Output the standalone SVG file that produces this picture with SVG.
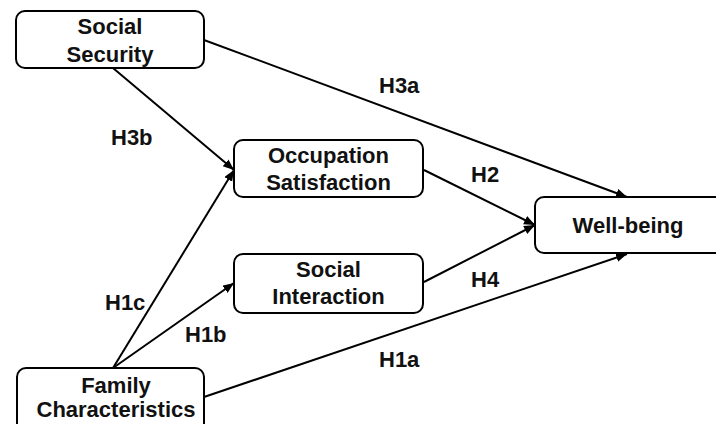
<svg xmlns="http://www.w3.org/2000/svg" width="716" height="424" viewBox="0 0 716 424">
<defs>
<marker id="arr" markerUnits="userSpaceOnUse" markerWidth="12" markerHeight="10" refX="11" refY="4.5" orient="auto">
<path d="M0,0 L11,4.5 L0,9 z" fill="#000"/>
</marker>
<style>
.box{fill:#fff;stroke:#000;stroke-width:2}
.t{font-family:"Liberation Sans",Arial,sans-serif;font-weight:bold;font-size:22px;fill:#111;text-anchor:middle}
.lbl{font-family:"Liberation Sans",Arial,sans-serif;font-weight:bold;font-size:22px;fill:#111}
.c{stroke:#000;stroke-width:2;fill:none;marker-end:url(#arr)}
</style>
</defs>
<rect width="716" height="424" fill="#fff"/>
<g id="connectors">
<line class="c" x1="204" y1="40" x2="627" y2="197"/>
<line class="c" x1="113" y1="68" x2="234" y2="170"/>
<line class="c" x1="424" y1="170" x2="535" y2="225"/>
<line class="c" x1="424" y1="282" x2="535" y2="225"/>
<line class="c" x1="204" y1="397" x2="627" y2="254"/>
<line class="c" x1="113" y1="368" x2="234" y2="170"/>
<line class="c" x1="113" y1="368" x2="234" y2="283"/>
</g>
<g id="labels">
<text class="lbl" x="379" y="93">H3a</text>
<text class="lbl" x="111" y="145">H3b</text>
<text class="lbl" x="471" y="182">H2</text>
<text class="lbl" x="471" y="287">H4</text>
<text class="lbl" x="105" y="310">H1c</text>
<text class="lbl" x="185" y="342">H1b</text>
<text class="lbl" x="379" y="367">H1a</text>
</g>
<g id="social-security">
<rect class="box" x="16" y="11" width="188" height="57" rx="9"/>
<text class="t" x="110" y="34">Social</text>
<text class="t" x="110" y="62">Security</text>
</g>
<g id="occupation-satisfaction">
<rect class="box" x="234" y="140" width="189" height="57" rx="9"/>
<text class="t" x="328.5" y="163">Occupation</text>
<text class="t" x="328.5" y="190">Satisfaction</text>
</g>
<g id="social-interaction">
<rect class="box" x="234" y="254" width="189" height="59" rx="9"/>
<text class="t" x="328.5" y="277">Social</text>
<text class="t" x="328.5" y="304">Interaction</text>
</g>
<g id="well-being">
<rect class="box" x="535" y="197" width="192" height="56" rx="9"/>
<text class="t" x="628" y="233">Well-being</text>
</g>
<g id="family-characteristics">
<rect class="box" x="17" y="368" width="187" height="64" rx="9"/>
<text class="t" x="116" y="393">Family</text>
<text class="t" x="116" y="417">Characteristics</text>
</g>
</svg>
